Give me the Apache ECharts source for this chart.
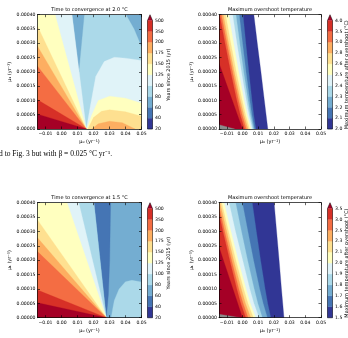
<!DOCTYPE html>
<html>
<head>
<meta charset="utf-8">
<script src="https://cdn.jsdelivr.net/npm/echarts@6/dist/echarts.min.js"></script>
<style>
html, body { margin: 0; padding: 0; background: #fff; }
#chart { width: 348px; height: 338px; }
</style>
</head>
<body>
<div id="chart"></div>
<script>
// RdYlBu_r, one colour per contour band, last one is the "extend max" arrow
const bandColors = ['#313695', '#4575b4', '#74add1', '#abd9e9', '#e0f3f8', '#ffffbf',
  '#fee090', '#fdae61', '#f46d43', '#d73027', '#a50026'];
const maskColor = '#8c8c8c';

const xTicks = [-0.01, 0, 0.01, 0.02, 0.03, 0.04, 0.05];
const timeLevels = ['20', '40', '60', '80', '100', '125', '150', '175', '200', '350', '500'];
const temp20Levels = ['2.0', '2.1', '2.2', '2.3', '2.4', '2.5', '2.6', '2.8', '3.0', '3.5', '4.0'];
const temp15Levels = ['1.5', '1.6', '1.7', '1.8', '1.9', '2.0', '2.1', '2.3', '2.5', '3.0', '3.5'];

// time to convergence, 2.0 C: [band, outline in (mu0, mu1)], painted in order
const conv20Bands = [
	[ 3, [ [ -0.015, 0 ], [ 0.05, 0 ], [ 0.05, 0.0004 ], [ -0.015, 0.0004 ] ] ],
	[ 2, [ [ 0.0066, 0.0004 ], [ 0.0142, 0.0004 ], [ 0.0108, 0.0002 ] ] ],
	[ 2, [ [ 0.0405, 0.0004 ], [ 0.05, 0.0004 ], [ 0.05, 0.00029 ], [ 0.0455, 0.00035 ] ] ],
	[ 4, [ [ -0.015, 0 ], [ 0.0155, 0 ], [ 0.0066, 0.0004 ], [ -0.015, 0.0004 ] ] ],
	[ 4, [ [ 0.0155, 0 ], [ 0.018, 0.00008 ], [ 0.0214, 0.000184 ], [ 0.0267, 0.000236 ], [ 0.033, 0.000251 ], [ 0.04, 0.000248 ], [ 0.05, 0.00024 ], [ 0.05, 0 ] ] ],
	[ 5, [ [ -0.015, 0 ], [ 0.0155, 0 ], [ -0.004, 0.0004 ], [ -0.015, 0.0004 ] ] ],
	[ 5, [ [ 0.0158, 0 ], [ 0.019, 0.00005 ], [ 0.023, 0.0001 ], [ 0.03, 0.000115 ], [ 0.04, 0.000108 ], [ 0.05, 0.00009 ], [ 0.05, 0 ] ] ],
	[ 6, [ [ -0.015, 0 ], [ 0.0155, 0 ], [ -0.015, 0.00036 ] ] ],
	[ 6, [ [ 0.0165, 0 ], [ 0.02, 0.00004 ], [ 0.025, 0.000062 ], [ 0.03, 0.000067 ], [ 0.04, 0.00006 ], [ 0.05, 0.000045 ], [ 0.05, 0 ] ] ],
	[ 7, [ [ -0.015, 0 ], [ 0.0155, 0 ], [ -0.015, 0.00029 ] ] ],
	[ 7, [ [ 0.019, 0 ], [ 0.023, 0.000018 ], [ 0.03, 0.000027 ], [ 0.038, 0.000022 ], [ 0.046, 0 ] ] ],
	[ 8, [ [ -0.015, 0 ], [ 0.0155, 0 ], [ -0.015, 0.00022 ] ] ],
	[ 9, [ [ -0.015, 0 ], [ 0.0155, 0 ], [ -0.015, 0.000102 ] ] ],
	[ 10, [ [ -0.015, 0 ], [ 0.0155, 0 ], [ -0.015, 0.000052 ] ] ]
];

// time to convergence, 1.5 C
const conv15Bands = [
	[ 2, [ [ -0.015, 0 ], [ 0.05, 0 ], [ 0.05, 0.0004 ], [ -0.015, 0.0004 ] ] ],
	[ 1, [ [ 0.0203, 0.0004 ], [ 0.0307, 0.0004 ], [ 0.0301, 0.0002 ], [ 0.0293, 0.00008 ], [ 0.028, 0 ] ] ],
	[ 3, [ [ 0.031, 0 ], [ 0.033, 0.00006 ], [ 0.036, 0.0001 ], [ 0.04, 0.000125 ], [ 0.044, 0.00013 ], [ 0.05, 0.000124 ], [ 0.05, 0 ] ] ],
	[ 3, [ [ -0.015, 0 ], [ 0.028, 0 ], [ 0.0203, 0.0004 ], [ -0.015, 0.0004 ] ] ],
	[ 4, [ [ -0.015, 0 ], [ 0.028, 0 ], [ 0.0108, 0.0004 ], [ -0.015, 0.0004 ] ] ],
	[ 5, [ [ -0.015, 0 ], [ 0.028, 0 ], [ 0.0035, 0.0004 ], [ -0.015, 0.0004 ] ] ],
	[ 6, [ [ -0.015, 0 ], [ 0.028, 0 ], [ -0.015, 0.00034 ] ] ],
	[ 7, [ [ -0.015, 0 ], [ 0.028, 0 ], [ -0.015, 0.000278 ] ] ],
	[ 8, [ [ -0.015, 0 ], [ 0.028, 0 ], [ -0.015, 0.00023 ] ] ],
	[ 9, [ [ -0.015, 0 ], [ 0.028, 0 ], [ -0.015, 0.000096 ] ] ],
	[ 10, [ [ -0.015, 0 ], [ 0.028, 0 ], [ -0.015, 0.000052 ] ] ]
];

// max overshoot: mu0 of each contour edge at these mu1 rows (edge k = lower bound of band k)
const ovRows = [ 0, 0.00005, 0.0001, 0.0002, 0.0003, 0.0004 ];
const ov20Edges = [
	[ 0.0161, 0.0150, 0.0139, 0.0117, 0.0094, 0.0072 ],
	[ 0.0085, 0.0071, 0.0060, 0.0040, 0.0021, 0.0003 ],
	[ 0.0076, 0.0059, 0.0046, 0.0022, 0.0000, -0.0021 ],
	[ 0.0069, 0.0050, 0.0035, 0.0007, -0.0018, -0.0042 ],
	[ 0.0062, 0.0041, 0.0024, -0.0007, -0.0036, -0.0063 ],
	[ 0.0054, 0.0030, 0.0010, -0.0025, -0.0057, -0.0088 ],
	[ 0.0045, 0.0019, -0.0002, -0.0040, -0.0075, -0.0108 ],
	[ 0.0035, 0.0008, -0.0014, -0.0053, -0.0089, -0.0123 ],
	[ 0.0024, -0.0003, -0.0025, -0.0064, -0.0100, -0.0135 ],
	[ 0.0012, -0.0015, -0.0037, -0.0076, -0.0112, -0.0146 ],
	[ 0.0000, -0.0033, -0.0065, -0.0130, -0.0196, -0.0261 ]
];
const ov15Edges = [
	[ 0.0264, 0.0256, 0.0248, 0.0233, 0.0217, 0.0201 ],
	[ 0.0180, 0.0160, 0.0144, 0.0115, 0.0088, 0.0062 ],
	[ 0.0158, 0.0131, 0.0109, 0.0070, 0.0034, -0.0001 ],
	[ 0.0126, 0.0097, 0.0074, 0.0032, -0.0007, -0.0044 ],
	[ 0.0105, 0.0072, 0.0046, 0.0001, -0.0045, -0.0086 ],
	[ 0.0084, 0.0049, 0.0022, -0.0028, -0.0074, -0.0118 ],
	[ 0.0069, 0.0034, 0.0007, -0.0043, -0.0089, -0.0133 ],
	[ 0.0052, 0.0018, -0.0008, -0.0057, -0.0101, -0.0144 ],
	[ 0.0035, 0.0003, -0.0024, -0.0070, -0.0114, -0.0155 ],
	[ 0.0020, -0.0012, -0.0037, -0.0082, -0.0125, -0.0165 ],
	[ -0.0001, -0.0031, -0.0061, -0.0122, -0.0182, -0.0242 ]
];
// grey masked corner at the bottom left
const ov20Mask = [ [ -0.015, 0 ], [ -0.015, 0.000015 ], [ -0.005, 0 ] ];
const ov15Mask = [ [ -0.015, 0 ], [ -0.015, 0.000012 ], [ -0.001, 0 ] ];

const FONT = 'DejaVu Sans';

// region left of each edge, painted from the coolest band up
const edgeBands = ( edges, mask ) => {
	const bands = edges.map( ( xs, k ) => [ k, [ [ -0.03, 0 ] ]
		.concat( ovRows.map( ( y, i ) => [ xs[ i ], y ] ) )
		.concat( [ [ -0.03, 0.0004 ] ] ) ] );
	bands.push( [ -1, mask ] );
	return bands;
};

const panels = [
	{
		title: 'Time to convergence at 2.0 °C', bands: conv20Bands, levels: timeLevels,
		cbarName: 'Years since 2015 (yr)',
		grid: { left: 37.5, top: 14.7, width: 104, height: 114.3 },
		cbar: { left: 147.5, top: 20.5, width: 5, height: 108.5 }, nameX: 168.3
	},
	{
		title: 'Maximum overshoot temperature', bands: edgeBands( ov20Edges, ov20Mask ), levels: temp20Levels,
		cbarName: 'Maximum temperature after overshoot (°C)',
		grid: { left: 219, top: 14.7, width: 102, height: 114.3 },
		cbar: { left: 327.5, top: 20.5, width: 5, height: 108.5 }, nameX: 346.5
	},
	{
		title: 'Time to convergence at 1.5 °C', bands: conv15Bands, levels: timeLevels,
		cbarName: 'Years since 2015 (yr)',
		grid: { left: 37.5, top: 202.7, width: 104, height: 115 },
		cbar: { left: 147.5, top: 208.5, width: 5, height: 109.2 }, nameX: 168.3
	},
	{
		title: 'Maximum overshoot temperature', bands: edgeBands( ov15Edges, ov15Mask ), levels: temp15Levels,
		cbarName: 'Maximum temperature after overshoot (°C)',
		grid: { left: 219, top: 202.7, width: 102, height: 115 },
		cbar: { left: 327.5, top: 208.5, width: 5, height: 109.2 }, nameX: 346.5
	}
];

const fmtX = ( v ) => ( v < -1e-9 ? '−' : '' ) + Math.abs( v ).toFixed( 2 );
const lineStyle = { color: '#000', width: 0.7 };
const tickStyle = { color: '#000', width: 0.6 };
const labelStyle = { fontFamily: FONT, fontSize: 4.6, color: '#000' };

const grids = [];
const xAxes = [];
const yAxes = [];
const series = [];
const titles = [];
const graphics = [];

panels.forEach( ( p, i ) => {
	grids.push( Object.assign( { show: false, outerBoundsMode: 'none' }, p.grid ) );
	grids.push( Object.assign( { show: false, outerBoundsMode: 'none' }, p.cbar ) );

	const xBase = {
		type: 'value', gridIndex: 2 * i, min: -0.015, max: 0.05, z: 10,
		splitLine: { show: false },
		axisLine: { show: true, onZero: false, lineStyle },
		axisTick: { show: true, inside: true, length: 2.5, lineStyle: tickStyle, customValues: xTicks }
	};
	xAxes.push( Object.assign( {}, xBase, {
		position: 'bottom',
		axisLabel: Object.assign( { margin: 2.5, customValues: xTicks, formatter: fmtX }, labelStyle ),
		name: 'μ₀ (yr⁻¹)', nameLocation: 'middle', nameGap: 10.5,
		nameTextStyle: { fontFamily: FONT, fontSize: 5, color: '#000' }
	} ) );
	xAxes.push( Object.assign( {}, xBase, { position: 'top', axisLabel: { show: false } } ) );
	xAxes.push( { type: 'value', gridIndex: 2 * i + 1, min: 0, max: 1, show: false } );

	const yBase = {
		type: 'value', gridIndex: 2 * i, min: 0, max: 0.0004, interval: 0.00005, z: 10,
		splitLine: { show: false },
		axisLine: { show: true, onZero: false, lineStyle },
		axisTick: { show: true, inside: true, length: 2.5, lineStyle: tickStyle }
	};
	yAxes.push( Object.assign( {}, yBase, {
		position: 'left',
		axisLabel: Object.assign( { margin: 2, showMinLabel: true, showMaxLabel: true,
			formatter: ( v ) => v.toFixed( 5 ) }, labelStyle ),
		name: 'μ₁ (yr⁻¹)', nameLocation: 'middle', nameGap: 22, nameRotate: 90,
		nameTextStyle: { fontFamily: FONT, fontSize: 5, color: '#000' }
	} ) );
	yAxes.push( Object.assign( {}, yBase, { position: 'right', axisLabel: { show: false } } ) );
	yAxes.push( {
		type: 'value', gridIndex: 2 * i + 1, min: 0, max: 10, interval: 1, position: 'right',
		splitLine: { show: false }, axisLine: { show: false },
		axisTick: { show: false },
		axisLabel: Object.assign( { margin: 2.5, showMinLabel: true, showMaxLabel: true,
			formatter: ( v ) => p.levels[ Math.round( v ) ] }, labelStyle )
	} );

	series.push( {
		type: 'custom', xAxisIndex: 3 * i, yAxisIndex: 3 * i, clip: true, silent: true,
		data: [ [ 0, 0 ] ],
		renderItem: ( params, api ) => ( {
			type: 'group',
			children: p.bands.map( ( [ lvl, pts ] ) => {
				const c = lvl < 0 ? maskColor : bandColors[ lvl ];
				return {
					type: 'polygon',
					shape: { points: pts.map( ( pt ) => api.coord( pt ) ) },
					style: { fill: c, stroke: c, lineWidth: 0.3 }
				};
			} )
		} )
	} );

	series.push( {
		type: 'custom', xAxisIndex: 3 * i + 2, yAxisIndex: 3 * i + 2, clip: false, silent: true,
		data: [ [ 0, 0 ] ],
		renderItem: ( params, api ) => {
			const children = [];
			for ( let k = 0; k < 10; k++ ) {
				const a = api.coord( [ 0, k ] );
				const b = api.coord( [ 1, k + 1 ] );
				children.push( {
					type: 'rect',
					shape: { x: a[ 0 ], y: b[ 1 ], width: b[ 0 ] - a[ 0 ], height: a[ 1 ] - b[ 1 ] },
					style: { fill: bandColors[ k ], stroke: bandColors[ k ], lineWidth: 0.3 }
				} );
			}
			children.push( {
				type: 'polygon',
				shape: { points: [ [ 0, 10 ], [ 1, 10 ], [ 0.5, 10.53 ] ].map( ( pt ) => api.coord( pt ) ) },
				style: { fill: bandColors[ 10 ] }
			} );
			children.push( {
				type: 'polygon',
				shape: { points: [ [ 0, 0 ], [ 1, 0 ], [ 1, 10 ], [ 0.5, 10.53 ], [ 0, 10 ] ].map( ( pt ) => api.coord( pt ) ) },
				style: { fill: 'none', stroke: '#000', lineWidth: 0.5 }
			} );
			return { type: 'group', children };
		}
	} );

	titles.push( {
		text: p.title, left: p.grid.left + p.grid.width / 2, top: p.grid.top - 7.8,
		textAlign: 'center', padding: 0,
		textStyle: { fontFamily: FONT, fontSize: 5, fontWeight: 'normal', color: '#000' }
	} );

	graphics.push( {
		type: 'text', x: p.nameX, y: p.cbar.top + p.cbar.height / 2, rotation: Math.PI / 2,
		style: { text: p.cbarName, fontFamily: FONT, fontSize: 5, fill: '#000', align: 'center', verticalAlign: 'middle' }
	} );
} );

graphics.push( {
	type: 'text', x: -1, y: 154,
	style: {
		text: 'd to Fig. 3 but with β = 0.025 °C yr⁻¹.',
		fontFamily: 'Liberation Serif', fontSize: 7.5, fill: '#000', verticalAlign: 'middle'
	}
} );

const chart = echarts.init( document.getElementById( 'chart' ), null, { renderer: 'canvas' } );
chart.setOption( {
	animation: false,
	backgroundColor: '#fff',
	title: titles,
	grid: grids,
	xAxis: xAxes,
	yAxis: yAxes,
	series,
	graphic: graphics
} );
</script>
</body>
</html>
